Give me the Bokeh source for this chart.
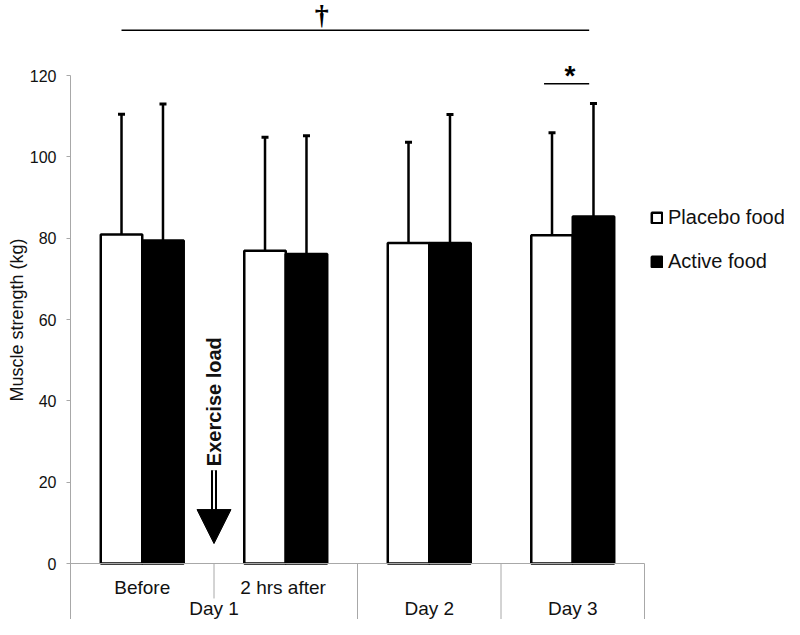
import numpy as np
from bokeh.plotting import figure
from bokeh.models import (ColumnDataSource, Range1d, FixedTicker, Whisker, TeeHead,
                          Legend, LegendItem, Arrow, NormalHead)
from bokeh.core.properties import value
from bokeh.embed import file_html
from bokeh.resources import INLINE

# ---- data ----
time_points = ["Before", "2 hrs  after", "", ""]
day_labels = ["Day 1", "Day 2", "Day 3"]
day_sizes = [2, 1, 1]
placebo_mean = [80.9, 76.9, 78.8, 80.7]
active_mean = [79.4, 76.1, 78.8, 85.3]
placebo_sd = [29.6, 27.9, 24.8, 25.2]
active_sd = [33.6, 29.1, 31.6, 27.8]
y_ticks = [0, 20, 40, 60, 80, 100, 120]

FONT = "Liberation Sans"
n = len(time_points)
centers = np.arange(n) + 0.5
bw = 0.289
off = bw / 2

W, H = 784, 619
LEFT = 70
PX_PER_Y = 488 / 120
y_zero_px = 563
y0 = -(H - y_zero_px) / PX_PER_Y
y1 = y_zero_px / PX_PER_Y

p = figure(width=W, height=H, output_backend="svg", toolbar_location=None,
           x_range=Range1d(0, (W - LEFT) / 143.5), y_range=Range1d(y0, y1),
           x_axis_location=None, min_border_left=LEFT, min_border_right=0,
           min_border_top=0, min_border_bottom=0, title=None)
p.outline_line_color = None
p.xgrid.visible = False
p.ygrid.visible = False

ax = p.yaxis[0]
ax.ticker = FixedTicker(ticks=y_ticks)
ax.bounds = (y0, 120)
ax.axis_line_color = "#a8a8a8"
ax.major_tick_line_color = "#a8a8a8"
ax.major_tick_out = 4
ax.major_tick_in = 0
ax.minor_tick_line_color = None
ax.major_label_text_font = FONT
ax.major_label_text_font_size = "16px"
ax.major_label_text_color = "#111111"
ax.major_label_standoff = 10
ax.axis_label = "Muscle strength (kg)\u00a0\u00a0\u00a0\u00a0"
ax.axis_label_text_font = FONT
ax.axis_label_text_font_size = "18px"
ax.axis_label_text_font_style = "normal"
ax.axis_label_text_color = "#111111"
ax.axis_label_standoff = 0

src = ColumnDataSource(dict(
    xp=centers - off, xa=centers + off,
    pm=placebo_mean, am=active_mean,
    pu=[m + s for m, s in zip(placebo_mean, placebo_sd)],
    au=[m + s for m, s in zip(active_mean, active_sd)],
))

# error bars (upward only)
for base, lo, up in (("xp", "pm", "pu"), ("xa", "am", "au")):
    p.add_layout(Whisker(source=src, base=base, lower=lo, upper=up, dimension="height",
                         line_color="black", line_width=2.5,
                         upper_head=TeeHead(size=7, line_width=3, line_color="black"),
                         lower_head=None))

r_p = p.vbar(x="xp", top="pm", width=bw, bottom=0, source=src,
             fill_color="white", line_color="black", line_width=2.5)
r_a = p.vbar(x="xa", top="am", width=bw, bottom=0, source=src,
             fill_color="black", line_color="black", line_width=2.5)

# category "table" below the axis
p.segment(x0=[0], y0=[0], x1=[n], y1=[0], line_color="#a8a8a8", line_width=1)
sub_x = [i for i in range(1, day_sizes[0])]
day_edges = list(np.cumsum(day_sizes))
p.segment(x0=sub_x, y0=[0] * len(sub_x), x1=sub_x, y1=[-8.6] * len(sub_x),
          line_color="#a8a8a8", line_width=1)
p.segment(x0=day_edges, y0=[0] * len(day_edges), x1=day_edges, y1=[y0] * len(day_edges),
          line_color="#a8a8a8", line_width=1)

tp_src = ColumnDataSource(dict(x=centers, y=[-5.9] * n, t=time_points))
p.text(x="x", y="y", text="t", source=tp_src, text_font=value(FONT),
       text_font_size="19px", text_align="center", text_baseline="middle", text_color="#111111")
starts = np.concatenate([[0], np.cumsum(day_sizes)[:-1]])
day_x = starts + np.array(day_sizes) / 2
day_src = ColumnDataSource(dict(x=day_x, y=[-11.0] * len(day_labels), t=day_labels))
p.text(x="x", y="y", text="t", source=day_src, text_font=value(FONT),
       text_font_size="19px", text_align="center", text_baseline="middle", text_color="#111111")

# significance marks
p.segment(x0=[centers[0] - off], y0=[131.1], x1=[centers[-1] + off - 0.03], y1=[131.1],
          line_color="black", line_width=1.5)
p.text(x=[1.75], y=[135.0], text=["†"], text_font=value("Liberation Serif"),
       text_font_size="28px", text_font_style="bold", text_align="center",
       text_baseline="alphabetic", text_color="black")
p.segment(x0=[3.30], y0=[118.0], x1=[centers[-1] + off - 0.03], y1=[118.0],
          line_color="black", line_width=1.5)
p.text(x=[3.48], y=[120.1], text=["*"], text_font=value(FONT),
       text_font_size="28px", text_font_style="bold", text_align="center",
       text_baseline="alphabetic", text_color="black")

# exercise load arrow
p.add_layout(Arrow(x_start=1.0, y_start=22.9, x_end=1.0, y_end=13.0,
                   line_color="black", line_width=6,
                   end=NormalHead(size=0, line_color=None, fill_color=None)))
p.add_layout(Arrow(x_start=1.0, y_start=22.9, x_end=1.0, y_end=13.0,
                   line_color="white", line_width=2,
                   end=NormalHead(size=0, line_color=None, fill_color=None)))
p.add_layout(Arrow(x_start=1.0, y_start=13.0, x_end=1.0, y_end=4.9,
                   line_color="black", line_width=1, line_alpha=0,
                   end=NormalHead(size=34, line_color="black", fill_color="black")))
p.text(x=[1.0], y=[39.8], text=["Exercise load"], angle=np.pi / 2,
       text_font=value(FONT), text_font_size="20px", text_font_style="bold",
       text_align="center", text_baseline="middle", text_color="#111111")

legend = Legend(items=[LegendItem(label="Placebo food", renderers=[r_p]),
                       LegendItem(label="Active food", renderers=[r_a])],
                location=(580, 346), orientation="vertical",
                glyph_width=13, glyph_height=13, label_height=23,
                label_standoff=5, spacing=21, padding=0, margin=0,
                border_line_color=None, background_fill_alpha=0,
                label_text_font=FONT, label_text_font_size="20px",
                label_text_color="#111111")
p.add_layout(legend)

open("out.html", "w").write(file_html(p, INLINE))
